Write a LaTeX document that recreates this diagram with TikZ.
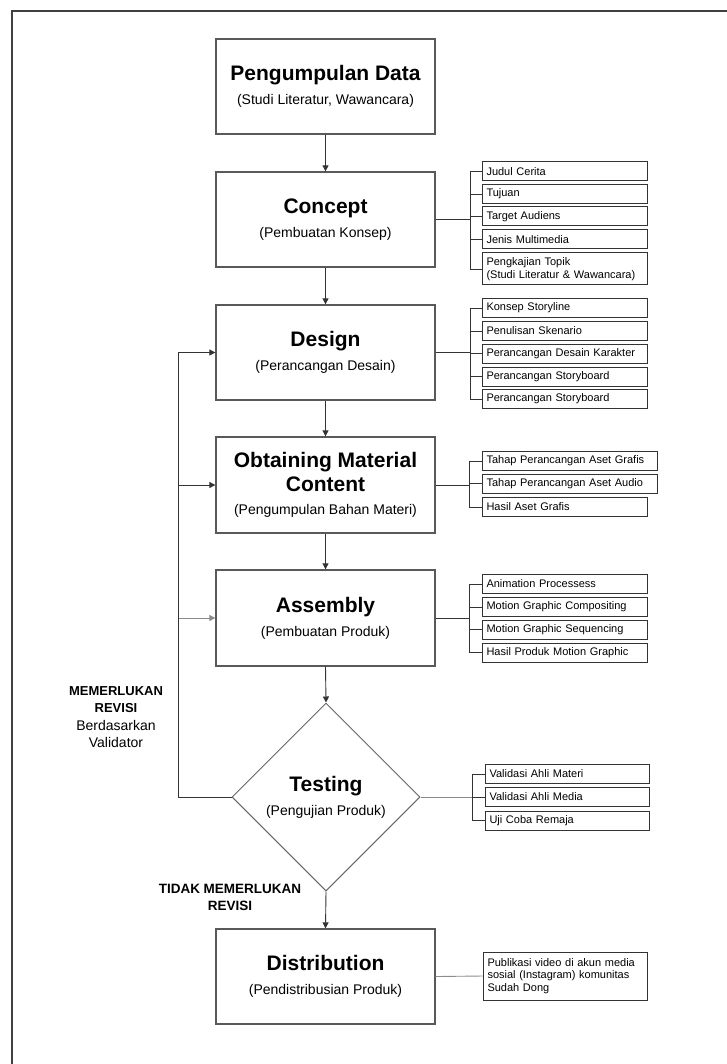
\documentclass[tikz,border=0pt]{standalone}
\usepackage{fontspec}
\setmainfont{Liberation Sans}
\usetikzlibrary{arrows.meta,shapes.geometric}
\newcommand{\ttl}{\fontsize{21}{24}\selectfont\bfseries}
\newcommand{\sbt}{\fontsize{14}{24}\selectfont\mdseries}
\begin{document}
\begin{tikzpicture}[x=1pt,y=-1pt,
  mainbox/.style={draw=black!65,line width=1.3pt,minimum width=219pt,minimum height=95pt,inner sep=0pt,align=center,fill=white,font=\fontsize{14}{24}\selectfont},
  sidebox/.style={draw=black!80,line width=1pt,minimum height=19pt,anchor=west,inner xsep=4pt,inner ysep=0pt,align=left,text width=#1,font=\fontsize{11}{13}\selectfont},
  sidebox/.default=157pt,
  conn/.style={draw=black!80,line width=0.9pt},
  lconn/.style={draw=black!45,line width=0.9pt},
  arr/.style={-{Triangle[length=6pt,width=6pt]}}]
\useasboundingbox (0,0) rectangle (727,1064);
% frame
\draw[line width=1.5pt,black!75] (12,1064) -- (12,11) -- (727,11);

% main boxes
\node[mainbox] (pd) at (325.5,86.5) {\ttl Pengumpulan Data\\ \sbt (Studi Literatur, Wawancara)};
\node[mainbox] (concept) at (325.5,219.5) {\ttl Concept\\ \sbt (Pembuatan Konsep)};
\node[mainbox] (design) at (325.5,352.5) {\ttl Design\\ \sbt (Perancangan Desain)};
\node[mainbox,minimum height=96pt] (obtain) at (325.5,485) {\ttl Obtaining Material\\ \ttl Content\\[-1pt] \sbt (Pengumpulan Bahan Materi)};
\node[mainbox,minimum height=96pt] (assembly) at (325.5,618) {\ttl Assembly\\ \sbt (Pembuatan Produk)};
\node[diamond,aspect=1,draw=black!60,line width=1pt,minimum width=188pt,minimum height=188pt,inner sep=0pt,align=center,font=\fontsize{14}{24}\selectfont] (test) at (326,797) {\ttl Testing\\ \sbt (Pengujian Produk)};
\node[mainbox] (dist) at (325.5,976.5) {\ttl Distribution\\ \sbt (Pendistribusian Produk)};

% main flow
\draw[conn,arr] (pd.south) -- (concept.north);
\draw[conn,arr] (concept.south) -- (design.north);
\draw[conn,arr] (design.south) -- (obtain.north);
\draw[conn,arr] (obtain.south) -- (assembly.north);
\draw[conn,arr] (assembly.south) -- (test.north);
\draw[conn,arr] (test.south) -- (dist.north);

% feedback loop
\coordinate (fb) at (178.5,797);
\draw[conn,arr] (test.west) -- (fb) |- (design.west);
\draw[conn,arr] (fb |- obtain.west) -- (obtain.west);
\draw[lconn,arr] (fb |- assembly.west) -- (assembly.west);

% labels
\node[align=center,inner sep=0pt,font=\fontsize{13.5}{16.5}\selectfont] (revlbl) at (116,717) {\fontsize{13}{16.5}\selectfont\bfseries MEMERLUKAN\\ \fontsize{13}{16.5}\selectfont\bfseries REVISI\\[2pt] \fontsize{14}{16.5}\selectfont Berdasarkan\\ \fontsize{14}{16.5}\selectfont Validator};
\node[align=center,inner sep=0pt,font=\fontsize{13.5}{17}\selectfont\bfseries] (norev) at (230,897) {\fontsize{13.5}{17}\selectfont\bfseries TIDAK MEMERLUKAN\\ \fontsize{13.5}{17}\selectfont\bfseries REVISI};

% concept group
\node[sidebox] (c1) at (482,171.5) {Judul Cerita};
\node[sidebox] (c2) at (482,194) {Tujuan};
\node[sidebox] (c3) at (482,216.5) {Target Audiens};
\node[sidebox] (c4) at (482,239.5) {Jenis Multimedia};
\node[sidebox,minimum height=32pt] (c5) at (482,269) {Pengkajian Topik\\(Studi Literatur \& Wawancara)};
\coordinate (cb) at (470,216.5);
\draw[conn] (cb |- c1.west) -- (cb |- c5.west);
\foreach \n in {c1,c2,c3,c4,c5} \draw[conn] (cb |- \n.west) -- (\n.west);
\draw[conn] (concept.east) -- (cb |- concept.east);

% design group
\node[sidebox] (d1) at (482,308) {Konsep Storyline};
\node[sidebox] (d2) at (482,331) {Penulisan Skenario};
\node[sidebox] (d3) at (482,353.5) {Perancangan Desain Karakter};
\node[sidebox] (d4) at (482,376.5) {Perancangan Storyboard};
\node[sidebox] (d5) at (482,399) {Perancangan Storyboard};
\coordinate (db) at (470,352.5);
\draw[conn] (db |- d1.west) -- (db |- d5.west);
\foreach \n in {d1,d2,d3,d4,d5} \draw[conn] (db |- \n.west) -- (\n.west);
\draw[conn] (design.east) -- (db |- design.east);

% obtaining group
\node[sidebox=167pt] (o1) at (482,461) {Tahap Perancangan Aset Grafis};
\node[sidebox=167pt] (o2) at (482,483.5) {Tahap Perancangan Aset Audio};
\node[sidebox] (o3) at (482,507) {Hasil Aset Grafis};
\coordinate (ob) at (469,484);
\draw[conn] (ob |- o1.west) -- (ob |- o3.west);
\foreach \n in {o1,o2,o3} \draw[conn] (ob |- \n.west) -- (\n.west);
\draw[conn] (obtain.east) -- (ob |- obtain.east);

% assembly group
\node[sidebox] (a1) at (482,584) {Animation Processess};
\node[sidebox] (a2) at (482,607) {Motion Graphic Compositing};
\node[sidebox] (a3) at (482,629.5) {Motion Graphic Sequencing};
\node[sidebox] (a4) at (482,652.5) {Hasil Produk Motion Graphic};
\coordinate (ab) at (469,618);
\draw[conn] (ab |- a1.west) -- (ab |- a4.west);
\foreach \n in {a1,a2,a3,a4} \draw[conn] (ab |- \n.west) -- (\n.west);
\draw[conn] (assembly.east) -- (ab |- assembly.east);

% testing group
\node[sidebox=156pt] (t1) at (485,774) {Validasi Ahli Materi};
\node[sidebox=156pt] (t2) at (485,797) {Validasi Ahli Media};
\node[sidebox=156pt] (t3) at (485,820.5) {Uji Coba Remaja};
\coordinate (tb) at (472,797);
\draw[conn] (tb |- t1.west) -- (tb |- t3.west);
\foreach \n in {t1,t2,t3} \draw[conn] (tb |- \n.west) -- (\n.west);
\draw[lconn] (test.east) -- (tb |- test.east);

% distribution
\node[sidebox=156pt,minimum height=48pt,font=\fontsize{11}{12.5}\selectfont] (ds) at (483,976) {Publikasi video di akun media\\sosial (Instagram) komunitas\\Sudah Dong};
\draw[lconn] (dist.east) -- (ds.west);
\end{tikzpicture}
\end{document}
